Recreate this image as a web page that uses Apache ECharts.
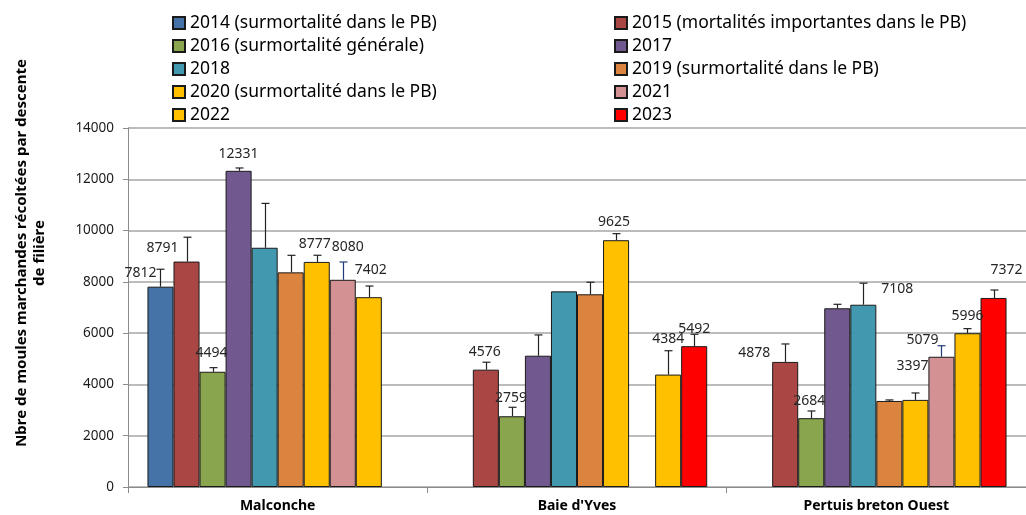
<!DOCTYPE html>
<html>
<head>
<meta charset="utf-8">
<script src="https://cdn.jsdelivr.net/npm/echarts@6/dist/echarts.min.js"></script>
<style>
  html, body { margin: 0; background: #fff; }
  #chart { width: 1026px; height: 515px; }
</style>
</head>
<body>
<div id="chart"></div>
<script>
// sites (categories)
const sites = ['Malconche', "Baie d'Yves", 'Pertuis breton Ouest']

// legend names, in series order
const years = [
  '2014 (surmortalité dans le PB)',
  '2015 (mortalités importantes dans le PB)',
  '2016 (surmortalité générale)',
  '2017',
  '2018',
  '2019 (surmortalité dans le PB)',
  '2020 (surmortalité dans le PB)',
  '2021',
  '2022',
  '2023'
]

// mean number of mussels per rope, one value per site
const values2014 = [7812, null, null]
const values2015 = [8791, 4576, 4878]
const values2016 = [4494, 2759, 2684]
const values2017 = [12331, 5120, 6970]
const values2018 = [9330, 7630, 7108]
const values2019 = [8370, 7515, 3355]
const values2020 = [8777, 9625, 3397]
const values2021 = [8080, null, 5079]
const values2022 = [7402, 4384, 5996]
const values2023 = [null, 5492, 7372]

// upper error (standard deviation), one value per site, null = none
const errors2014 = [680, null, null]
const errors2015 = [950, 290, 700]
const errors2016 = [160, 350, 280]
const errors2017 = [110, 810, 155]
const errors2018 = [1730, null, 840]
const errors2019 = [665, 470, 40]
const errors2020 = [260, 255, 270]
const errors2021 = [695, null, 430]
const errors2022 = [435, 930, 180]
const errors2023 = [null, 465, 310]

const allValues = [values2014, values2015, values2016, values2017, values2018,
  values2019, values2020, values2021, values2022, values2023]
const allErrors = [errors2014, errors2015, errors2016, errors2017, errors2018,
  errors2019, errors2020, errors2021, errors2022, errors2023]

// styles
const colors = ['#4572A7', '#AA4643', '#89A54E', '#71588F', '#4198AF',
  '#DB843D', '#FFC000', '#D39193', '#FFC000', '#FF0000']
const errorColors = ['#222', '#222', '#222', '#222', '#222',
  '#222', '#222', '#1F3A78', '#222', '#222']
// data label offsets [dx, dy] from the bar top, null = no label
const labelOffsets = [
  [[-20, -2], null, null],
  [[-24, -2], [-1, -6], [-31, 3]],
  [[-1, -7], [-1, -6], [-2, -5]],
  [[0, -5], null, null],
  [null, null, [34, -4]],
  [null, null, null],
  [[-2, -6], [-2, -6], [-3, -22]],
  [[5, -21], null, [-19, -5]],
  [[2, -15], [0, -24], [0, -5]],
  [null, [0, -5], [13, -16]]
]

const GAP = 0.13
const COUNT = years.length

/**
 * error bar drawn above the bar of a given slot
 */
function errorBar (slot, color) {
  return function (params, api) {
    const cat = api.value(0)
    const base = api.coord([cat, api.value(1)])
    const high = api.coord([cat, api.value(2)])
    const band = api.size([1, 0])[0]
    const barW = band * (1 - GAP) / COUNT
    const x = Math.round(base[0] - band * (1 - GAP) / 2 + barW * (slot + 0.5)) + 0.5
    const style = { stroke: color, lineWidth: 1.2 }
    return {
      type: 'group',
      children: [
        { type: 'line', shape: { x1: x, y1: base[1], x2: x, y2: high[1] }, style },
        { type: 'line', shape: { x1: x - 4, y1: high[1], x2: x + 4, y2: high[1] }, style }
      ]
    }
  }
}

const barSeries = years.map((name, i) => ({
  type: 'bar',
  name,
  barGap: '0%',
  barCategoryGap: (GAP * 100) + '%',
  itemStyle: { color: colors[i], borderColor: '#1a1a1a', borderWidth: 1 },
  label: {
    show: false,
    position: 'top',
    distance: 5,
    fontFamily: 'Noto Sans',
    fontSize: 14,
    color: '#262626'
  },
  data: allValues[i].map((v, j) => {
    const off = labelOffsets[i][j]
    if (v === null) return null
    return off ? { value: v, label: { show: true, offset: off } } : { value: v }
  })
}))

const errorSeries = years.map((name, i) => ({
  type: 'custom',
  name: 'err ' + name,
  z: 5,
  encode: { x: 0, y: [1, 2] },
  renderItem: errorBar(i, errorColors[i]),
  data: allValues[i]
    .map((v, j) => (v === null || allErrors[i][j] === null ? null : [j, v, v + allErrors[i][j]]))
    .filter(d => d !== null)
}))

const legendBase = {
  orient: 'vertical',
  top: 14,
  padding: 0,
  icon: 'rect',
  itemWidth: 12,
  itemHeight: 12,
  itemGap: 5,
  selectedMode: false,
  textStyle: { fontFamily: 'Noto Sans', fontSize: 17.5, lineHeight: 17, color: '#000' }
}

const option = {
  animation: false,
  backgroundColor: '#fff',
  legend: [
    { ...legendBase, left: 172, data: years.filter((y, i) => i % 2 === 0) },
    { ...legendBase, left: 614, data: years.filter((y, i) => i % 2 === 1) }
  ],
  grid: { left: 128, right: 0, top: 128, bottom: 28 },
  xAxis: {
    type: 'category',
    data: sites,
    axisLine: { lineStyle: { color: '#8c8c8c', width: 1 } },
    axisTick: { show: true, length: 6, lineStyle: { color: '#8c8c8c' } },
    axisLabel: { margin: 12, fontFamily: 'Noto Sans', fontWeight: 'bold', fontSize: 14, color: '#000' }
  },
  yAxis: {
    type: 'value',
    min: 0,
    max: 14000,
    interval: 2000,
    axisLine: { show: true, lineStyle: { color: '#8c8c8c' } },
    axisTick: { show: true, length: 5, lineStyle: { color: '#8c8c8c' } },
    axisLabel: {
      margin: 14,
      fontFamily: 'Noto Sans',
      fontSize: 13.5,
      color: '#1a1a1a',
      formatter: v => String(v)
    },
    splitLine: { lineStyle: { color: '#a6a6a6', width: 1.5 } }
  },
  graphic: [{
    type: 'text',
    x: 31,
    y: 253,
    rotation: Math.PI / 2,
    style: {
      text: 'Nbre de moules marchandes récoltées par descente\nde filière',
      fontFamily: 'Noto Sans',
      fontWeight: 'bold',
      fontSize: 15,
      lineHeight: 18,
      fill: '#000',
      align: 'center',
      verticalAlign: 'middle'
    }
  }],
  series: [...barSeries, ...errorSeries]
}

const chart = echarts.init(document.getElementById('chart'))
chart.setOption(option)
</script>
</body>
</html>
